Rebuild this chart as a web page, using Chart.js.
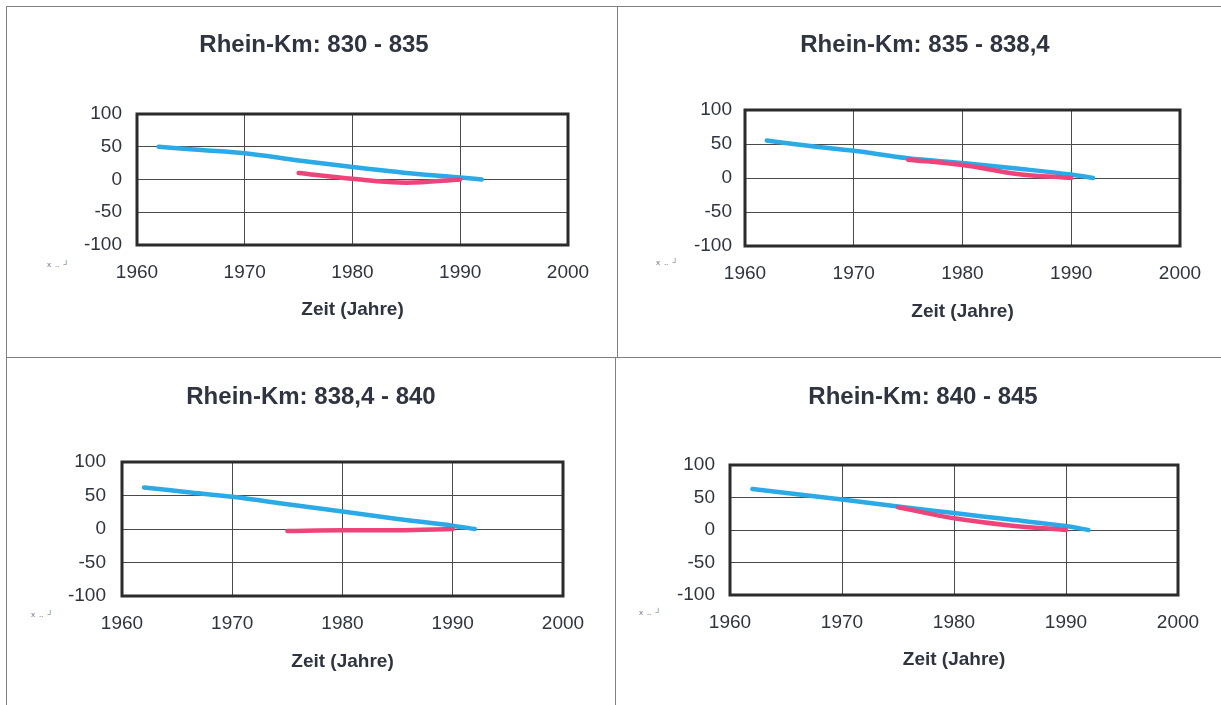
<!DOCTYPE html>
<html lang="de">
<head>
<meta charset="utf-8">
<title>Rhein-Km</title>
<script src="https://cdn.jsdelivr.net/npm/chart.js@4.4.1/dist/chart.umd.min.js"></script>
<style>
  html, body { margin: 0; padding: 0; background: #fff; }
  body { width: 1221px; height: 705px; position: relative; overflow: hidden;
         font-family: "Liberation Sans", Arial, sans-serif; }
  .rule { position: absolute; background: #808080; }
  canvas { position: absolute; }
  .mark { position: absolute; font-size: 8px; line-height: 8px; color: #6b7080; letter-spacing: 1px; white-space: nowrap; }
</style>
</head>
<body>
<div class="rule" style="left:7px;top:6px;width:1214px;height:1px"></div>
<div class="rule" style="left:6px;top:6px;width:1px;height:699px"></div>
<div class="rule" style="left:617px;top:6px;width:1px;height:351px"></div>
<div class="rule" style="left:615px;top:357px;width:1px;height:348px"></div>
<div class="rule" style="left:6px;top:357px;width:1215px;height:1px"></div>

<span class="mark" style="left:47px;top:261px">x ‥ ┘</span>
<span class="mark" style="left:656px;top:259px">x ‥ ┘</span>
<span class="mark" style="left:31px;top:611px">x ‥ ┘</span>
<span class="mark" style="left:639px;top:609px">x ‥ ┘</span>

<script>
// ---- data ----
const panelTitles = [
  'Rhein-Km: 830 - 835',
  'Rhein-Km: 835 - 838,4',
  'Rhein-Km: 838,4 - 840',
  'Rhein-Km: 840 - 845'
];
const xAxisTitle = 'Zeit (Jahre)';
const yearTicks = [1960, 1970, 1980, 1990, 2000];
const valueTicks = [-100, -50, 0, 50, 100];

const blueYears = [1962, 1966, 1970, 1975, 1980, 1985, 1990, 1992];
const blue830_835 = [50, 45, 40, 29, 19, 10, 3, 0];
const blue835_838 = [55, 47, 40, 29, 22, 14, 5, 0];
const blue838_840 = [62, 55, 48, 37, 26, 15, 5, 0];
const blue840_845 = [63, 55, 47, 36, 26, 16, 6, 0];

const redYears = [1975, 1980, 1985, 1990];
const red830_835 = [10, 1, -5, 0];
const red835_838 = [27, 19, 6, 0];
const red838_840 = [-3, -2, -2, 0];
const red840_845 = [35, 18, 7, 0];

// ---- styling ----
const TEXT = '#2f3441';
const GRID = '#4a4a4a';
const FRAME = '#2b2b2b';
const BLUE = '#2aaae6';
const PINK = '#ee4479';
const FAMILY = '"Liberation Sans", Arial, sans-serif';
const TITLE_SIZE = 24;
const TICK_SIZE = 19;

// page placement of each panel (canvas box, plot box, text centres)
const panels = [
  { left: 60,  right: 608,  top: 7,   bottom: 357, titleY: 45,  plotLeft: 137, plotRight: 568,  plotTop: 114, plotBottom: 245, xLabelY: 273, xTitleY: 310, yLabelRight: 122,
    blue: blue830_835, red: red830_835 },
  { left: 670, right: 1220, top: 7,   bottom: 357, titleY: 45,  plotLeft: 745, plotRight: 1180, plotTop: 110, plotBottom: 246, xLabelY: 274, xTitleY: 312, yLabelRight: 732,
    blue: blue835_838, red: red835_838 },
  { left: 59,  right: 603,  top: 358, bottom: 705, titleY: 397, plotLeft: 122, plotRight: 563,  plotTop: 462, plotBottom: 596, xLabelY: 624, xTitleY: 662, yLabelRight: 106,
    blue: blue838_840, red: red838_840 },
  { left: 668, right: 1218, top: 358, bottom: 705, titleY: 397, plotLeft: 730, plotRight: 1178, plotTop: 465, plotBottom: 595, xLabelY: 623, xTitleY: 660, yLabelRight: 715,
    blue: blue840_845, red: red840_845 }
];

// heavy frame round the plot area
const plotFrame = {
  id: 'plotFrame',
  beforeDatasetsDraw(chart) {
    const { ctx, chartArea: a } = chart;
    ctx.save();
    ctx.lineWidth = 3;
    ctx.strokeStyle = FRAME;
    ctx.strokeRect(a.left, a.top, a.right - a.left, a.bottom - a.top);
    ctx.restore();
  }
};

function lineSeries(xs, ys, color) {
  return {
    data: xs.map((x, k) => ({ x, y: ys[k] })),
    borderColor: color,
    borderWidth: 4.5,
    borderCapStyle: 'round',
    borderJoinStyle: 'round',
    pointRadius: 0,
    cubicInterpolationMode: 'monotone',
    fill: false
  };
}

function drawPanel(i, g) {
  const W = g.right - g.left, H = g.bottom - g.top;
  const canvas = document.createElement('canvas');
  canvas.width = W; canvas.height = H;
  canvas.style.left = g.left + 'px';
  canvas.style.top = g.top + 'px';
  canvas.style.width = W + 'px';
  canvas.style.height = H + 'px';
  document.body.appendChild(canvas);

  const titleLH = TITLE_SIZE * 1.2;
  const tickLH = TICK_SIZE * 1.2;

  new Chart(canvas, {
    type: 'line',
    data: {
      datasets: [
        lineSeries(redYears, g.red, PINK),
        lineSeries(blueYears, g.blue, BLUE)
      ]
    },
    options: {
      responsive: false,
      animation: false,
      devicePixelRatio: 1,
      layout: {
        padding: { left: 0, top: 0, right: g.right - g.plotRight, bottom: g.bottom - (g.xTitleY + tickLH / 2) }
      },
      plugins: {
        legend: { display: false },
        tooltip: { enabled: false },
        title: {
          display: true,
          text: panelTitles[i],
          color: TEXT,
          font: { family: FAMILY, size: TITLE_SIZE, weight: 'bold' },
          padding: { top: g.titleY - g.top - titleLH / 2, bottom: g.plotTop - g.titleY - titleLH / 2 }
        }
      },
      scales: {
        x: {
          type: 'linear',
          min: yearTicks[0],
          max: yearTicks[yearTicks.length - 1],
          afterBuildTicks(s) { s.ticks = yearTicks.map(v => ({ value: v })); },
          afterFit(s) { s.height = g.xTitleY + tickLH / 2 - g.plotBottom; },
          ticks: {
            padding: g.xLabelY - g.plotBottom - tickLH / 2,
            color: TEXT,
            font: { family: FAMILY, size: TICK_SIZE },
            maxRotation: 0,
            autoSkip: false,
            callback: v => String(v)
          },
          grid: { color: GRID, lineWidth: 1, drawTicks: false },
          border: { display: false },
          title: {
            display: true,
            text: xAxisTitle,
            color: TEXT,
            font: { family: FAMILY, size: TICK_SIZE, weight: 'bold' },
            padding: 0
          }
        },
        y: {
          type: 'linear',
          min: valueTicks[0],
          max: valueTicks[valueTicks.length - 1],
          afterBuildTicks(s) { s.ticks = valueTicks.map(v => ({ value: v })); },
          afterFit(s) { s.width = g.plotLeft - g.left; },
          ticks: {
            padding: g.plotLeft - g.yLabelRight,
            color: TEXT,
            font: { family: FAMILY, size: TICK_SIZE },
            callback: v => String(v)
          },
          grid: { color: GRID, lineWidth: 1, drawTicks: false },
          border: { display: false }
        }
      }
    },
    plugins: [plotFrame]
  });
}

panels.forEach((g, i) => drawPanel(i, g));
</script>
</body>
</html>
